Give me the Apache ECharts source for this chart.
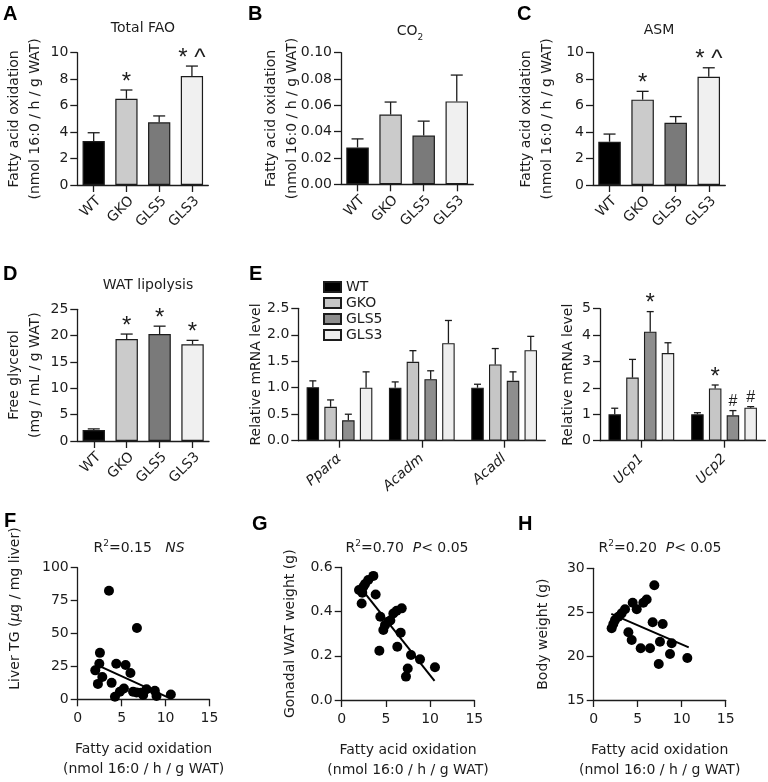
<!DOCTYPE html>
<html><head><meta charset="utf-8">
<script src="https://cdn.jsdelivr.net/npm/echarts@6/dist/echarts.min.js"></script>
<style>html,body{margin:0;padding:0;background:#fff}#c{width:768px;height:782px}</style>
</head><body><div id="c"></div>
<script>
// ---------- data ----------
const groups = ['WT', 'GKO', 'GLS5', 'GLS3'];

const faoMean = [3.32, 6.52, 4.74, 8.24];
const faoErr  = [0.63, 0.66, 0.48, 0.75];
const faoMark = ['', '*', '', '* ^'];

const co2Mean = [0.028, 0.053, 0.037, 0.063];
const co2Err  = [0.0065, 0.0095, 0.011, 0.020];
const co2Mark = ['', '', '', ''];

const asmMean = [3.27, 6.45, 4.71, 8.18];
const asmErr  = [0.58, 0.63, 0.46, 0.68];
const asmMark = ['', '*', '', '* ^'];

const glyMean = [2.1, 19.35, 20.3, 18.35];
const glyErr  = [0.2, 0.95, 1.5, 0.75];
const glyMark = ['', '*', '*', '*'];

const genesL = ['Pparα', 'Acadm', 'Acadl'];
const eL_WT   = [1.01, 1.0, 1.0];
const eL_GKO  = [0.64, 1.49, 1.44];
const eL_GLS5 = [0.385, 1.16, 1.13];
const eL_GLS3 = [1.0, 1.84, 1.71];
const eLErr_WT   = [0.12, 0.11, 0.066];
const eLErr_GKO  = [0.13, 0.21, 0.30];
const eLErr_GLS5 = [0.115, 0.16, 0.17];
const eLErr_GLS3 = [0.30, 0.43, 0.26];

const genesR = ['Ucp1', 'Ucp2'];
const eR_WT   = [1.0, 1.0];
const eR_GKO  = [2.39, 1.98];
const eR_GLS5 = [4.13, 0.96];
const eR_GLS3 = [3.32, 1.25];
const eRErr_WT   = [0.23, 0.06];
const eRErr_GKO  = [0.69, 0.13];
const eRErr_GLS5 = [0.76, 0.18];
const eRErr_GLS3 = [0.39, 0.04];
const eRMark_WT   = ['', ''];
const eRMark_GKO  = ['', '*'];
const eRMark_GLS5 = ['*', '#'];
const eRMark_GLS3 = ['', '#'];

const fX = [3.56, 6.74, 2.53, 2.46, 2.0, 2.8, 2.3, 4.39, 5.45, 6.0, 3.86, 4.24, 4.8, 5.26, 6.3, 6.7, 7.45, 7.84, 8.78, 8.97, 10.6, 7.2];
const fY = [82.5, 54.2, 35.3, 27, 22, 17, 11.7, 27, 26, 20, 12.5, 2, 5.7, 8.2, 5.7, 5.2, 3.2, 7.7, 6.5, 2.5, 3.7, 5];
const fLineX = [2.3, 10.4];
const fLineY = [25.8, 1.1];

const gX = [3.58, 3.0, 2.64, 2.45, 1.96, 2.33, 3.84, 2.26, 4.37, 5.84, 6.22, 6.79, 5.27, 4.9, 4.71, 6.67, 4.26, 6.29, 7.84, 8.86, 10.55, 7.47, 7.27, 5.5];
const gY = [0.562, 0.543, 0.525, 0.513, 0.498, 0.486, 0.478, 0.437, 0.377, 0.392, 0.404, 0.415, 0.354, 0.339, 0.317, 0.305, 0.223, 0.241, 0.204, 0.184, 0.148, 0.143, 0.106, 0.36];
const gLineX = [2.3, 10.5];
const gLineY = [0.50, 0.087];

const hX = [6.89, 6.02, 5.64, 4.43, 4.89, 3.56, 3.18, 2.8, 2.42, 2.23, 2.04, 6.7, 7.84, 3.94, 4.32, 7.53, 8.86, 5.34, 6.4, 8.67, 10.64, 7.39];
const hY = [28.06, 26.45, 26.07, 26.08, 25.33, 25.33, 24.87, 24.49, 24.1, 23.66, 23.17, 23.85, 23.66, 22.71, 21.83, 21.64, 21.46, 20.89, 20.89, 20.24, 19.78, 19.1];
const hLineX = [2.0, 10.8];
const hLineY = [24.8, 21.0];

// ---------- styles ----------
const FONT = '"DejaVu Sans", "Liberation Sans", sans-serif';
const BFONT = '"Liberation Sans", Arial, Helvetica, sans-serif';
const TXT = '#1c1c1c';
const AX = '#1c1c1c';
const barColors = ['#000000', '#cbcbcb', '#7a7a7a', '#f0f0f0'];
const eColors = ['#000000', '#c6c6c6', '#8e8e8e', '#eeeeee'];

const grids = [
  {left: 77.3, top: 52.7, width: 131, height: 132.3},   // A
  {left: 341, top: 52.7, width: 132.3, height: 131.6},  // B
  {left: 593, top: 52.7, width: 132.3, height: 132.3},  // C
  {left: 77.3, top: 309.3, width: 131.7, height: 131.7},// D
  {left: 298.3, top: 308.3, width: 247, height: 132.4}, // E left
  {left: 600, top: 308.7, width: 165.4, height: 132},   // E right
  {left: 77.7, top: 567.7, width: 131.8, height: 131.6},// F
  {left: 341.7, top: 567.5, width: 132.6, height: 132.5},// G
  {left: 593.7, top: 568.3, width: 132, height: 131.7}  // H
].map(g => Object.assign({outerBoundsMode: 'none', containLabel: false}, g));

const lineSt = {color: AX, width: 1.3};
function catX(gi, cats, rot, italic, margin, valign) {
  return {
    type: 'category', gridIndex: gi, data: cats, boundaryGap: true,
    axisLine: {show: true, lineStyle: lineSt},
    axisTick: {show: true, alignWithLabel: true, length: 7, lineStyle: lineSt},
    axisLabel: {interval: 0, rotate: rot, margin: margin, verticalAlign: valign, color: TXT, fontSize: 14,
      fontFamily: FONT, fontStyle: italic ? 'italic' : 'normal', hideOverlap: false},
    splitLine: {show: false}
  };
}
function valAxis(gi, min, max, interval, dec, name, gap, extra) {
  return Object.assign({
    type: 'value', gridIndex: gi, min: min, max: max, interval: interval,
    axisLine: {show: true, onZero: false, lineStyle: lineSt},
    axisTick: {show: true, length: 7, lineStyle: lineSt},
    axisLabel: {margin: 9, color: TXT, fontSize: 14, fontFamily: FONT,
      formatter: v => v.toFixed(dec), hideOverlap: false},
    splitLine: {show: false},
    name: name, nameLocation: 'middle', nameGap: gap, nameRotate: 90, nameMoveOverlap: false,
    nameTextStyle: {color: TXT, fontSize: 14, fontFamily: FONT, lineHeight: 21}
  }, extra || {});
}
function scatX(gi) {
  return {
    type: 'value', gridIndex: gi, min: 0, max: 15, interval: 5,
    axisLine: {show: true, onZero: false, lineStyle: lineSt},
    axisTick: {show: true, length: 7, lineStyle: lineSt},
    axisLabel: {margin: 12, color: TXT, fontSize: 14, fontFamily: FONT},
    splitLine: {show: false},
    name: 'Fatty acid oxidation\n(nmol 16:0 / h / g WAT)', nameLocation: 'middle', nameGap: 40,
    nameMoveOverlap: false,
    nameTextStyle: {color: TXT, fontSize: 14, fontFamily: FONT, lineHeight: 20}
  };
}

const yName2 = 'Fatty acid oxidation\n(nmol 16:0 / h / g WAT)';
const xAxis = [
  catX(0, groups, 45, false, 9, 'top'), catX(1, groups, 45, false, 9, 'top'),
  catX(2, groups, 45, false, 9, 'top'), catX(3, groups, 45, false, 9, 'top'),
  catX(4, genesL, 41, true, 16, 'middle'), catX(5, genesR, 45, true, 16, 'middle'),
  scatX(6), scatX(7), scatX(8)
];
const yAxis = [
  valAxis(0, 0, 10, 2, 0, yName2, 31),
  valAxis(1, 0, 0.10, 0.02, 2, yName2, 38),
  valAxis(2, 0, 10, 2, 0, yName2, 35),
  valAxis(3, 0, 25, 5, 0, 'Free glycerol\n(mg / mL / g WAT)', 31),
  valAxis(4, 0, 2.5, 0.5, 1, 'Relative mRNA level', 31),
  valAxis(5, 0, 5, 1, 0, 'Relative mRNA level', 21),
  valAxis(6, 0, 100, 25, 0, 'Liver TG ({it|μ}g / mg liver)', 54, {
    nameTextStyle: {color: TXT, fontSize: 14, fontFamily: FONT, lineHeight: 16, padding: [0, 0, 0, 50],
      rich: {it: {fontStyle: 'italic', fontSize: 14, fontFamily: FONT, color: TXT}}}}),
  valAxis(7, 0, 0.6, 0.2, 1, 'Gonadal WAT weight (g)', 41),
  valAxis(8, 15, 30, 5, 0, 'Body weight (g)', 40)
];

function barSeries(ai, means, name) {
  return {
    type: 'bar', name: name, xAxisIndex: ai, yAxisIndex: ai, barWidth: '68%', z: 2,
    data: means.map((m, i) => ({value: m, itemStyle: {color: barColors[i]}})),
    itemStyle: {borderColor: AX, borderWidth: 1.2}, silent: true
  };
}
function errSeries(ai, means, errs, marks, offset, capHalf) {
  return {
    type: 'custom', xAxisIndex: ai, yAxisIndex: ai, z: 5, silent: true,
    data: means.map((m, i) => [i, m, errs[i]]),
    renderItem: function (params, api) {
      const i = api.value(0), m = api.value(1), e = api.value(2);
      const p0 = api.coord([i, m]);
      const p1 = api.coord([i, m + e]);
      const x = p0[0] + offset;
      const ch = [
        {type: 'line', shape: {x1: x, y1: p0[1], x2: x, y2: p1[1]}, style: {stroke: AX, lineWidth: 1.3}},
        {type: 'line', shape: {x1: x - capHalf, y1: p1[1], x2: x + capHalf, y2: p1[1]}, style: {stroke: AX, lineWidth: 1.3}}
      ];
      const mk = marks ? marks[params.dataIndex] : '';
      if (mk) {
        const isHash = mk.indexOf('#') >= 0;
        ch.push({type: 'text', x: x, y: p1[1] - (isHash ? 9 : 8),
          style: {text: mk, fill: TXT, fontSize: isHash ? 16 : 24, fontFamily: BFONT,
            align: 'center', verticalAlign: 'middle'}});
      }
      return {type: 'group', children: ch};
    }
  };
}

const series = [];
series.push(barSeries(0, faoMean, 'fao'), errSeries(0, faoMean, faoErr, faoMark, 0, 6));
series.push(barSeries(1, co2Mean, 'co2'), errSeries(1, co2Mean, co2Err, co2Mark, 0, 6));
series.push(barSeries(2, asmMean, 'asm'), errSeries(2, asmMean, asmErr, asmMark, 0, 6));
series.push(barSeries(3, glyMean, 'gly'), errSeries(3, glyMean, glyErr, glyMark, 0, 6));

const eLVals = [eL_WT, eL_GKO, eL_GLS5, eL_GLS3];
const eLErrs = [eLErr_WT, eLErr_GKO, eLErr_GLS5, eLErr_GLS3];
const eRVals = [eR_WT, eR_GKO, eR_GLS5, eR_GLS3];
const eRErrs = [eRErr_WT, eRErr_GKO, eRErr_GLS5, eRErr_GLS3];
const eRMarks = [eRMark_WT, eRMark_GKO, eRMark_GLS5, eRMark_GLS3];
const BW = 12.5, GAP = 0.42;
groups.forEach((g, k) => {
  const st = {color: eColors[k], borderColor: AX, borderWidth: 1.1};
  series.push({type: 'bar', name: g, xAxisIndex: 4, yAxisIndex: 4, data: eLVals[k], barWidth: BW,
    barGap: (GAP * 100) + '%', itemStyle: st, silent: true});
  series.push({type: 'bar', name: g, xAxisIndex: 5, yAxisIndex: 5, data: eRVals[k], barWidth: BW,
    barGap: (GAP * 100) + '%', itemStyle: st, silent: true});
});
groups.forEach((g, k) => {
  const off = (k - 1.5) * BW * (1 + GAP);
  series.push(errSeries(4, eLVals[k], eLErrs[k], null, off, 3.5));
  series.push(errSeries(5, eRVals[k], eRErrs[k], eRMarks[k], off, 3.5));
});

function scat(ai, xs, ys, lx, ly) {
  series.push({type: 'scatter', xAxisIndex: ai, yAxisIndex: ai, symbol: 'circle', symbolSize: 10,
    itemStyle: {color: '#000', opacity: 1}, data: xs.map((x, i) => [x, ys[i]]), silent: true, z: 3});
  series.push({type: 'line', xAxisIndex: ai, yAxisIndex: ai, showSymbol: false, symbol: 'none',
    lineStyle: {color: '#000', width: 2}, data: lx.map((x, i) => [x, ly[i]]), silent: true, z: 4});
}
scat(6, fX, fY, fLineX, fLineY);
scat(7, gX, gY, gLineX, gLineY);
scat(8, hX, hY, hLineX, hLineY);

function letter(t, x, y) {
  return {text: t, left: x, top: y, padding: 0,
    textStyle: {fontSize: 20, fontWeight: 'bold', color: '#000', fontFamily: BFONT}};
}
const rich = {
  n: {fontSize: 14, color: TXT, fontFamily: FONT, lineHeight: 16, verticalAlign: 'bottom'},
  i: {fontSize: 14, color: TXT, fontFamily: FONT, fontStyle: 'italic', lineHeight: 16, verticalAlign: 'bottom'},
  sup: {fontSize: 9, color: TXT, fontFamily: FONT, lineHeight: 9, verticalAlign: 'top'},
  sub: {fontSize: 9, color: TXT, fontFamily: FONT, lineHeight: 22, verticalAlign: 'bottom'},
  m: {fontSize: 14, color: TXT, fontFamily: FONT, lineHeight: 16, verticalAlign: 'middle'}
};
function ptitle(t, cx, cy) {
  return {text: t, left: cx, top: cy, padding: 0, textAlign: 'center', textVerticalAlign: 'middle',
    textStyle: {fontSize: 14, color: TXT, fontFamily: FONT, fontWeight: 'normal', rich: rich}};
}
const title = [
  letter('A', 3, 4), letter('B', 248, 4), letter('C', 517, 4),
  letter('D', 3, 264), letter('E', 249, 264),
  letter('F', 4, 511), letter('G', 252, 514), letter('H', 518, 514),
  ptitle('Total FAO', 143, 28),
  ptitle('{m|CO}{sub|2}', 410, 31),
  ptitle('ASM', 659, 30),
  ptitle('WAT lipolysis', 148, 285),
  ptitle('{n|R}{sup|2}{n|=0.15   }{i|NS}', 139, 547),
  ptitle('{n|R}{sup|2}{n|=0.70  }{i|P}{n|< 0.05}', 407, 547),
  ptitle('{n|R}{sup|2}{n|=0.20  }{i|P}{n|< 0.05}', 660, 547)
];

const chart = echarts.init(document.getElementById('c'), null, {renderer: 'canvas'});
chart.setOption({
  animation: false,
  backgroundColor: '#ffffff',
  textStyle: {fontFamily: FONT},
  title: title,
  legend: {data: groups, orient: 'vertical', left: 323, top: 280, itemWidth: 17, itemHeight: 10,
    itemGap: 2, icon: 'rect', selectedMode: false, padding: 0,
    textStyle: {fontSize: 14, color: TXT, fontFamily: FONT, lineHeight: 14}},
  grid: grids,
  xAxis: xAxis,
  yAxis: yAxis,
  series: series
});
</script>
</body></html>
